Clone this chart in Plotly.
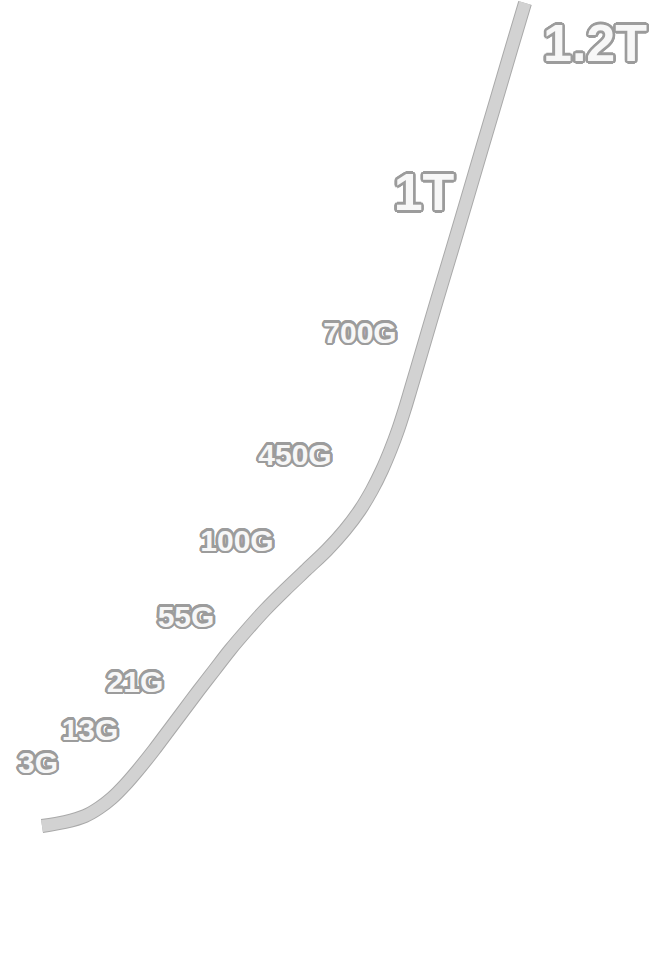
import math
import plotly.graph_objects as go

# Growth curve (x position, height) in chart units
curve_x = [42, 65, 85, 99, 112, 125, 138, 154, 169, 184, 199, 214.5, 230, 247, 265, 285,
           306, 327, 345, 360, 372, 382, 390.5, 398, 404.5, 410.5, 422.3, 437, 452, 466.8,
           481.5, 496.3, 511, 525]
curve_y = [136, 140, 146, 154, 164, 177, 192, 212, 232, 252, 272, 292, 312, 332, 352, 372,
           392, 412, 432, 452, 472, 492, 512, 532, 552, 572, 612, 662, 712, 762,
           812, 862, 912, 959]

# Capacity labels
labels = ["3G", "13G", "21G", "55G", "100G", "450G", "700G", "1T", "1.2T"]
label_x = [38, 90, 135, 186, 237, 295, 360, 424, 595]
label_y = [197, 230, 278, 343, 419, 505, 627, 765, 914]
label_size = [30, 30, 30, 30, 30, 30, 30, 52, 52]

stroke = "#9c9c9c"
offs = []
for r in (1.5, 2.6):
    for k in range(16):
        a = 2 * math.pi * k / 16
        offs.append((round(r * math.cos(a), 2), round(r * math.sin(a), 2)))
shadow = ", ".join(f"{a}px {b}px 0 {stroke}" for a, b in offs)

fig = go.Figure()
fig.add_trace(go.Scatter(x=curve_x, y=curve_y, mode="lines",
                         line=dict(color="#a9a9a9", width=14, shape="spline", smoothing=0.9),
                         hoverinfo="skip"))
fig.add_trace(go.Scatter(x=curve_x, y=curve_y, mode="lines",
                         line=dict(color="#d2d2d2", width=12, shape="spline", smoothing=0.9),
                         hoverinfo="skip"))
fig.add_trace(go.Scatter(x=label_x, y=label_y, mode="text", text=labels,
                         textposition="middle center",
                         textfont=dict(family="Liberation Sans", size=label_size,
                                       color="#f7f7f7", weight="bold", shadow=shadow),
                         hoverinfo="skip"))

fig.update_layout(width=660, height=962, margin=dict(l=0, r=0, t=0, b=0),
                  paper_bgcolor="white", plot_bgcolor="white", showlegend=False,
                  hovermode=False,
                  xaxis=dict(range=[0, 660], visible=False, fixedrange=True),
                  yaxis=dict(range=[0, 962], visible=False, fixedrange=True))

fig.write_html("out.html", config={"displayModeBar": False, "staticPlot": True},
               post_script="document.body.style.margin='0';document.body.style.overflow='hidden';")
